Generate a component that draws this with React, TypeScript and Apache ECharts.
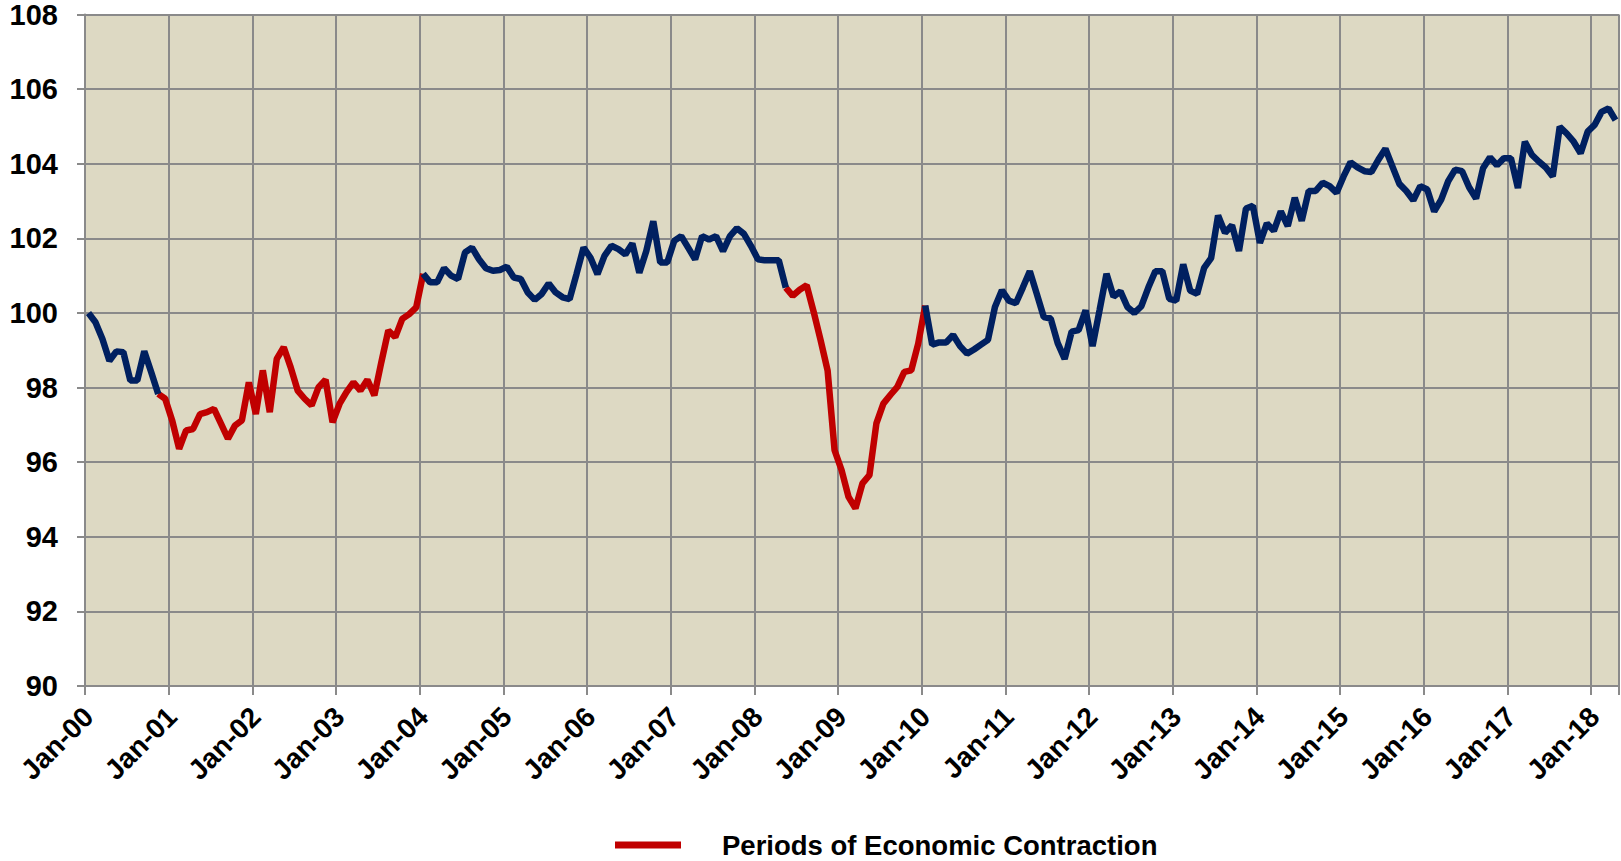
import React, { useEffect, useRef } from "react";
import * as echarts from "echarts";

// Monthly index values, Jan-00 .. Apr-18
const v2000 = [100.0, 99.75, 99.3, 98.72, 98.97, 98.95, 98.19, 98.19, 98.97, 98.41, 97.83, 97.7];
const v2001 = [97.12, 96.36, 96.85, 96.89, 97.29, 97.34, 97.43, 97.03, 96.63, 96.98, 97.12, 98.14];
const v2002 = [97.29, 98.46, 97.34, 98.77, 99.08, 98.54, 97.92, 97.7, 97.52, 98.01, 98.21, 97.07];
const v2003 = [97.56, 97.88, 98.14, 97.92, 98.21, 97.79, 98.68, 99.53, 99.35, 99.84, 99.97, 100.15];
const v2004 = [101.05, 100.82, 100.82, 101.2, 101.0, 100.91, 101.62, 101.75, 101.44, 101.2, 101.13, 101.15];
const v2005 = [101.24, 100.95, 100.91, 100.55, 100.35, 100.51, 100.79, 100.55, 100.42, 100.37, 101.05, 101.75];
const v2006 = [101.48, 101.04, 101.53, 101.8, 101.71, 101.57, 101.86, 101.08, 101.66, 102.46, 101.35, 101.35];
const v2007 = [101.93, 102.06, 101.75, 101.44, 102.06, 101.97, 102.06, 101.66, 102.06, 102.27, 102.12, 101.8];
const v2008 = [101.44, 101.41, 101.41, 101.41, 100.68, 100.46, 100.62, 100.74, 100.03, 99.27, 98.46, 96.32];
const v2009 = [95.79, 95.07, 94.76, 95.43, 95.65, 97.04, 97.57, 97.8, 98.02, 98.42, 98.46, 99.18];
const v2010 = [100.2, 99.15, 99.21, 99.21, 99.41, 99.11, 98.91, 99.02, 99.15, 99.28, 100.16, 100.61];
const v2011 = [100.33, 100.26, 100.68, 101.12, 100.51, 99.89, 99.85, 99.19, 98.77, 99.5, 99.54, 100.07];
const v2012 = [99.11, 100.07, 101.05, 100.44, 100.58, 100.16, 100.0, 100.18, 100.68, 101.12, 101.12, 100.38];
const v2013 = [100.33, 101.3, 100.6, 100.51, 101.21, 101.47, 102.61, 102.15, 102.35, 101.66, 102.8, 102.87];
const v2014 = [101.88, 102.4, 102.2, 102.72, 102.33, 103.09, 102.47, 103.27, 103.27, 103.49, 103.4, 103.22];
const v2015 = [103.66, 104.04, 103.9, 103.8, 103.78, 104.11, 104.4, 103.93, 103.46, 103.27, 103.02, 103.4];
const v2016 = [103.31, 102.72, 103.04, 103.53, 103.84, 103.8, 103.37, 103.07, 103.88, 104.17, 103.96, 104.15];
const v2017 = [104.15, 103.35, 104.59, 104.24, 104.06, 103.9, 103.66, 104.99, 104.81, 104.59, 104.28, 104.86];
const v2018 = [105.04, 105.39, 105.48, 105.17];

// Contraction periods as [startIndex, endIndex] (inclusive, months from Jan-00)
const contractionPeriods = [
  [10, 48],
  [100, 120],
];

const monthNames = ["Jan", "Feb", "Mar", "Apr", "May", "Jun", "Jul", "Aug", "Sep", "Oct", "Nov", "Dec"];
const yAxisTicks = { min: 90, max: 108, interval: 2 };
const legendLabel = "Periods of Economic Contraction";

const values = [
  ...v2000, ...v2001, ...v2002, ...v2003, ...v2004, ...v2005, ...v2006, ...v2007, ...v2008,
  ...v2009, ...v2010, ...v2011, ...v2012, ...v2013, ...v2014, ...v2015, ...v2016, ...v2017, ...v2018,
];
const categories = values.map((_, i) => {
  const yr = Math.floor(i / 12);
  return `${monthNames[i % 12]}-${String(yr).padStart(2, "0")}`;
});

const inContraction = (i: number) => contractionPeriods.some(([a, b]) => i >= a && i <= b);
const isContractionInterior = (i: number) => contractionPeriods.some(([a, b]) => i > a && i < b);
const redData = values.map((v, i) => (inContraction(i) ? v : null));
const blueData = values.map((v, i) => (isContractionInterior(i) ? null : v));

const FONT = "'Liberation Sans', Arial, sans-serif";
const GRID_COLOR = "#8a8a8a";

export default function App() {
  const ref = useRef<HTMLDivElement>(null);
  useEffect(() => {
    if (!ref.current) return;
    const chart = echarts.init(ref.current, undefined, { renderer: "svg" });
    const yearInterval = (index: number) => index % 12 === 0;
    chart.setOption({
      animation: false,
      backgroundColor: "#ffffff",
      grid: {
        left: 85,
        right: 2,
        top: 12,
        bottom: 175,
        show: true,
        backgroundColor: "#DDD9C3",
        borderWidth: 0,
      },
      legend: {
        data: [{ name: legendLabel, icon: "rect" }],
        left: 615,
        top: 831,
        padding: 0,
        itemWidth: 66,
        itemHeight: 7,
        itemStyle: { color: "#C00000" },
        textStyle: {
          fontFamily: FONT,
          fontWeight: "bold",
          fontSize: 27.5,
          color: "#000",
          padding: [0, 0, 0, 36],
        },
      },
      xAxis: {
        type: "category",
        data: categories,
        boundaryGap: true,
        axisLine: { show: true, lineStyle: { color: GRID_COLOR, width: 2 } },
        axisTick: {
          show: true,
          interval: yearInterval,
          length: 9,
          lineStyle: { color: GRID_COLOR, width: 2 },
        },
        splitLine: {
          show: true,
          interval: yearInterval,
          lineStyle: { color: GRID_COLOR, width: 2 },
        },
        axisLabel: {
          interval: yearInterval,
          rotate: 45,
          margin: 26,
          fontFamily: FONT,
          fontWeight: "bold",
          fontSize: 28,
          color: "#000",
        },
      },
      yAxis: {
        type: "value",
        min: yAxisTicks.min,
        max: yAxisTicks.max,
        interval: yAxisTicks.interval,
        axisLine: { show: true, lineStyle: { color: GRID_COLOR, width: 2 } },
        axisTick: { show: true, length: 8, lineStyle: { color: GRID_COLOR, width: 2 } },
        splitLine: { show: true, lineStyle: { color: GRID_COLOR, width: 2 } },
        axisLabel: {
          margin: 27,
          fontFamily: FONT,
          fontWeight: "bold",
          fontSize: 29,
          color: "#000",
        },
      },
      series: [
        {
          name: "Index",
          type: "line",
          data: blueData,
          symbol: "none",
          connectNulls: false,
          lineStyle: { color: "#002060", width: 6.5 },
          itemStyle: { color: "#002060" },
          z: 3,
        },
        {
          name: legendLabel,
          type: "line",
          data: redData,
          symbol: "none",
          connectNulls: false,
          lineStyle: { color: "#C00000", width: 6.5 },
          itemStyle: { color: "#C00000" },
          z: 2,
        },
      ],
    });
    return () => chart.dispose();
  }, []);
  return (
    <div
      ref={ref}
      style={{ position: "absolute", left: 0, top: 0, width: 1621, height: 861 }}
    />
  );
}
